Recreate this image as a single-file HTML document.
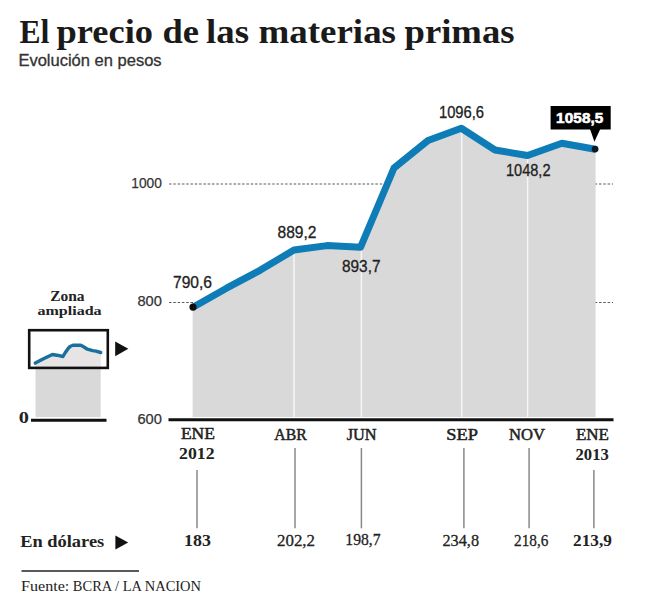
<!DOCTYPE html>
<html><head><meta charset="utf-8">
<style>
html,body{margin:0;padding:0;background:#fff;width:645px;height:606px;overflow:hidden}
svg{display:block}
</style></head>
<body>
<svg width="645" height="606" viewBox="0 0 645 606">
<!-- title -->
<g font-family="Liberation Serif, serif" font-weight="bold" font-size="33.5" fill="#1a1a1a">
<text x="19.5" y="42.5" textLength="30" lengthAdjust="spacingAndGlyphs"><tspan font-size="33">E</tspan>l</text>
<text x="56.5" y="42.5" textLength="96.5" lengthAdjust="spacingAndGlyphs">precio</text>
<text x="162.5" y="42.5" textLength="36.5" lengthAdjust="spacingAndGlyphs">de</text>
<text x="206" y="42.5" textLength="43" lengthAdjust="spacingAndGlyphs">las</text>
<text x="258.5" y="42.5" textLength="137.5" lengthAdjust="spacingAndGlyphs">materias</text>
<text x="404.5" y="42.5" textLength="110" lengthAdjust="spacingAndGlyphs">primas</text>
</g>
<text x="18.4" y="66.3" font-family="Liberation Sans, sans-serif" font-size="16" fill="#333" stroke="#333" stroke-width="0.3" textLength="143.2" lengthAdjust="spacingAndGlyphs">Evolución en pesos</text>

<!-- grid dotted lines -->
<line x1="169" y1="184" x2="613" y2="184" stroke="#5a5a5a" stroke-width="1.1" stroke-dasharray="2.5,1.8"/>
<line x1="169" y1="302.5" x2="613" y2="302.5" stroke="#5a5a5a" stroke-width="1.1" stroke-dasharray="2.5,1.8"/>

<!-- area -->
<polygon fill="#d9d9d9" points="192.6,417 192.6,307.2 193,307.2 226.5,288.2 260,270.3 294,250 327,245.6 360.5,247.3 394,168 428,140.5 461.3,128.3 495,150 527.5,155.5 561.9,143.3 595.3,149.2 595.6,149.2 595.6,417"/>
<g stroke="#f6f6f6" stroke-width="1.5">
<line x1="294" y1="252" x2="294" y2="417"/>
<line x1="361.4" y1="249" x2="361.4" y2="417"/>
<line x1="461.7" y1="130" x2="461.7" y2="417"/>
<line x1="527.6" y1="158" x2="527.6" y2="417"/>
</g>

<!-- line -->
<polyline fill="none" stroke="#0e7cb6" stroke-width="7" stroke-linejoin="round" stroke-linecap="butt" points="193,307.2 226.5,288.2 260,270.3 294,250 327,245.6 360.5,247.3 394,168 428,140.5 461.3,128.3 495,150 527.5,155.5 561.9,143.3 595.3,149.2"/>
<circle cx="193" cy="307.1" r="3.6" fill="#0b0f14"/>
<circle cx="595.1" cy="149.1" r="3.4" fill="#0b1a26"/>

<!-- axis -->
<line x1="168.5" y1="419.8" x2="613.5" y2="419.8" stroke="#111" stroke-width="3"/>

<!-- value labels -->
<g font-family="Liberation Sans, sans-serif" font-size="16" fill="#222" stroke="#222" stroke-width="0.3">
<text x="173" y="288" textLength="39" lengthAdjust="spacingAndGlyphs">790,6</text>
<text x="277.5" y="237.5" textLength="39" lengthAdjust="spacingAndGlyphs">889,2</text>
<text x="342" y="271.8" textLength="38.5" lengthAdjust="spacingAndGlyphs">893,7</text>
<text x="439" y="118.3" textLength="45" lengthAdjust="spacingAndGlyphs">1096,6</text>
<text x="506" y="175.8" textLength="44.5" lengthAdjust="spacingAndGlyphs">1048,2</text>
</g>

<!-- callout -->
<rect x="550.6" y="106" width="60.1" height="23.5" fill="#000"/>
<polygon points="590,129 600.3,129 594.4,141.8" fill="#000"/>
<text x="579.8" y="123.3" font-family="Liberation Sans, sans-serif" font-size="15.3" font-weight="bold" fill="#fff" stroke="#fff" stroke-width="0.6" text-anchor="middle" letter-spacing="0.1">1058,5</text>

<!-- connector lines -->
<g stroke="#888" stroke-width="1.5">
<line x1="197" y1="470" x2="197" y2="528.3"/>
<line x1="295" y1="448" x2="295" y2="528.3"/>
<line x1="361.4" y1="448" x2="361.4" y2="528.3"/>
<line x1="463.9" y1="448" x2="463.9" y2="528.3"/>
<line x1="529.1" y1="448" x2="529.1" y2="528.3"/>
<line x1="593.9" y1="470" x2="593.9" y2="528.3"/>
</g>

<!-- texts -->
<text x="131.3" y="187.73" font-size="15.5" textLength="30.5" lengthAdjust="spacingAndGlyphs" font-family="Liberation Sans" fill="#333" stroke="#333" stroke-width="0.25">1000</text>
<text x="137.4" y="305.73" font-size="15.5" textLength="24.4" lengthAdjust="spacingAndGlyphs" font-family="Liberation Sans" fill="#333" stroke="#333" stroke-width="0.25">800</text>
<text x="137.4" y="423.93" font-size="15.5" textLength="24.4" lengthAdjust="spacingAndGlyphs" font-family="Liberation Sans" fill="#333" stroke="#333" stroke-width="0.25">600</text>
<text x="180.95" y="439.44" font-size="16.5" textLength="33.95" lengthAdjust="spacingAndGlyphs" font-family="Liberation Serif" fill="#222" stroke="#222" stroke-width="0.5">ENE</text>
<text x="274.25" y="440.34" font-size="16.5" textLength="32.45" lengthAdjust="spacingAndGlyphs" font-family="Liberation Serif" fill="#222" stroke="#222" stroke-width="0.5">ABR</text>
<text x="346.65" y="440.34" font-size="16.5" textLength="29.95" lengthAdjust="spacingAndGlyphs" font-family="Liberation Serif" fill="#222" stroke="#222" stroke-width="0.5">JUN</text>
<text x="446.3" y="439.74" font-size="16.5" textLength="31.7" lengthAdjust="spacingAndGlyphs" font-family="Liberation Serif" fill="#222" stroke="#222" stroke-width="0.5">SEP</text>
<text x="508.95" y="439.94" font-size="16.5" textLength="35.95" lengthAdjust="spacingAndGlyphs" font-family="Liberation Serif" fill="#222" stroke="#222" stroke-width="0.5">NOV</text>
<text x="575.95" y="440.09" font-size="16.5" textLength="32.95" lengthAdjust="spacingAndGlyphs" font-family="Liberation Serif" fill="#222" stroke="#222" stroke-width="0.5">ENE</text>
<text x="179.1" y="459.04" font-size="16.5" textLength="35.5" lengthAdjust="spacingAndGlyphs" font-family="Liberation Serif" font-weight="bold" fill="#222">2012</text>
<text x="575.55" y="459.54" font-size="16.5" textLength="33.25" lengthAdjust="spacingAndGlyphs" font-family="Liberation Serif" font-weight="bold" fill="#222">2013</text>
<text x="184.05" y="546.34" font-size="16.5" textLength="26.85" lengthAdjust="spacingAndGlyphs" font-family="Liberation Serif" font-weight="bold" fill="#222">183</text>
<text x="277.0" y="546.34" font-size="16.5" textLength="38.05" lengthAdjust="spacingAndGlyphs" font-family="Liberation Serif" fill="#222" stroke="#222" stroke-width="0.3">202,2</text>
<text x="345.3" y="545.44" font-size="16.5" textLength="35.25" lengthAdjust="spacingAndGlyphs" font-family="Liberation Serif" fill="#222" stroke="#222" stroke-width="0.3">198,7</text>
<text x="442.4" y="546.34" font-size="16.5" textLength="36.65" lengthAdjust="spacingAndGlyphs" font-family="Liberation Serif" fill="#222" stroke="#222" stroke-width="0.3">234,8</text>
<text x="514.1" y="546.34" font-size="16.5" textLength="34.25" lengthAdjust="spacingAndGlyphs" font-family="Liberation Serif" fill="#222" stroke="#222" stroke-width="0.3">218,6</text>
<text x="573.1" y="546.34" font-size="16.5" textLength="38.75" lengthAdjust="spacingAndGlyphs" font-family="Liberation Serif" font-weight="bold" fill="#222">213,9</text>
<text x="20.2" y="546.89" font-size="16.5" textLength="84.05" lengthAdjust="spacingAndGlyphs" font-family="Liberation Serif" font-weight="bold" fill="#222">En dólares</text>
<text x="21.1" y="590.70" font-size="15" textLength="48.25" lengthAdjust="spacingAndGlyphs" font-family="Liberation Serif" fill="#222">Fuente:</text>
<text x="72.85" y="590.70" font-size="15" textLength="128.15" lengthAdjust="spacingAndGlyphs" font-family="Liberation Serif" fill="#222">BCRA / LA NACION</text>
<text x="50.15" y="300.74" font-size="14" textLength="34.45" lengthAdjust="spacingAndGlyphs" font-family="Liberation Serif" font-weight="bold" fill="#222">Zona</text>
<text x="37.4" y="314.56" font-size="13.5" textLength="64.25" lengthAdjust="spacingAndGlyphs" font-family="Liberation Serif" font-weight="bold" fill="#222">ampliada</text>
<text x="18.7" y="422.56" font-size="16" textLength="10.15" lengthAdjust="spacingAndGlyphs" font-family="Liberation Serif" font-weight="bold" fill="#222">0</text>

<polygon points="115.4,535.5 128.2,542.5 115.4,549.5" fill="#111"/>
<line x1="21.5" y1="571" x2="139" y2="571" stroke="#222" stroke-width="1.5"/>

<!-- inset -->
<polygon fill="#e6e4e4" points="35.3,367 35.3,363.1 43.5,358.8 52.4,354.5 57,355.2 63,356.5 65,353 67.6,349.2 70,346.5 72.9,345.3 80.8,345.3 84,347 87.4,349.2 92.7,350.6 96,351.2 100.7,352.5 100.8,367"/>
<rect x="35.5" y="367" width="65.2" height="50" fill="#d9d9d9"/>
<polyline fill="none" stroke="#19709c" stroke-width="3.4" stroke-linejoin="round" stroke-linecap="round" points="35.3,363.1 43.5,358.8 52.4,354.5 57,355.2 63,356.5 65,353 67.6,349.2 70,346.5 72.9,345.3 80.8,345.3 84,347 87.4,349.2 92.7,350.6 96,351.2 100.7,352.5"/>
<rect x="29.2" y="330.2" width="78.6" height="37.7" fill="none" stroke="#111" stroke-width="2.6"/>
<polygon points="115.2,341.4 128.3,348.8 115.2,356.2" fill="#111"/>
<line x1="31" y1="420.3" x2="106.5" y2="420.3" stroke="#111" stroke-width="3"/>
</svg>
</body></html>
